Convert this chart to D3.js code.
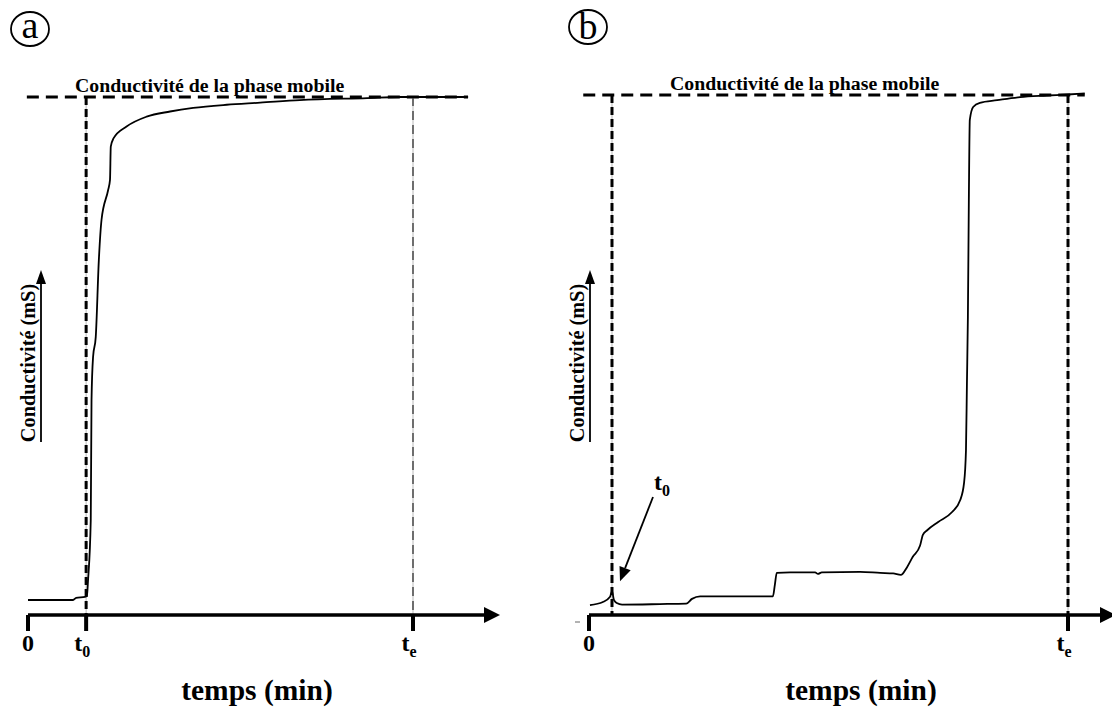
<!DOCTYPE html>
<html><head><meta charset="utf-8">
<script src="https://cdn.jsdelivr.net/npm/d3@7"></script>
<style>
html,body{margin:0;padding:0;background:#fff;}
svg text{font-family:"Liberation Serif","Times New Roman",serif;}
</style></head>
<body>
<svg id="chart" width="1112" height="710"></svg>
<script>
// ---- data (arbitrary time units: 0 -> origin, 100 -> t_e ; conductivity in % of mobile phase) ----
const panelA_time = [0, 11.7, 12.5, 14.8, 15.3, 15.6, 16.3, 16.5, 16.9, 17.6, 18.4, 19.1, 20.8, 21.3, 21.5, 22.2, 25.6, 30.8, 36.9, 42.9, 51.6, 60.3, 70.6, 88.1, 96.6, 114.3];
const panelA_cond = [2.9, 2.9, 3.3, 3.5, 3.7, 6.8, 18.3, 41.5, 49.8, 53.7, 68.5, 76.3, 82.0, 84.0, 90.4, 92.0, 94.3, 96.2, 97.2, 97.9, 98.5, 98.9, 99.4, 99.8, 100, 100];
const panelB_time = [0.2, 2.9, 4.4, 4.8, 5.2, 5.8, 6.9, 14.8, 20.3, 21.5, 23.2, 31.5, 38.4, 38.8, 39.2, 42.0, 47.2, 47.8, 48.6, 56.6, 60.8, 63.5, 65.1, 66.4, 67.6, 69.1, 69.7, 70.6, 72.9, 75.8, 77.5, 78.3, 78.7, 78.9, 79.1, 79.3, 79.5, 80.2, 81.6, 85.2, 90.0, 95.6, 100, 103.5];
const panelB_cond = [1.9, 2.5, 3.5, 4.6, 2.9, 2.3, 2.0, 2.1, 2.2, 3.1, 3.6, 3.6, 3.6, 5.8, 8.1, 8.2, 8.2, 7.9, 8.2, 8.3, 8.1, 8.0, 7.7, 9.2, 11.2, 13.3, 15.4, 16.3, 17.9, 19.8, 22.1, 25.4, 31.7, 44.6, 57.3, 79.8, 95.2, 97.7, 98.5, 99.0, 99.6, 99.9, 100.1, 100.3];
const panelA_ticks = [0, 15.1, 100];
const panelA_tickLabels = ["0", "t|0", "t|e"];
const panelB_ticks = [0, 100];
const panelB_tickLabels = ["0", "t|e"];
const panelA_t0 = 15.1, panelB_t0 = 4.8, t_e = 100;
const mobilePhase = 100;
const panelLetters = ["a", "b"];
const titleText = "Conductivité de la phase mobile";
const yLabelText = "Conductivité (mS)";
const xLabelText = "temps (min)";

const svg = d3.select("#chart");

function panel(cfg){
  const g = svg.append("g");
  const x = d3.scaleLinear().domain([0, 100]).range(cfg.xr);
  const y = d3.scaleLinear().domain([0, 100]).range(cfg.yr);
  // circled letter
  g.append("ellipse").attr("cx", cfg.circ[0]).attr("cy", cfg.circ[1]).attr("rx", 19).attr("ry", 17)
    .attr("fill", "none").attr("stroke", "#000").attr("stroke-width", 1.8);
  g.append("text").attr("x", cfg.circ[0]).attr("y", cfg.circ[1] + cfg.letterDy).attr("text-anchor", "middle")
    .attr("font-size", 38).text(cfg.letter);
  // mobile phase dashed line
  g.append("line").attr("x1", x(cfg.dashStart)).attr("x2", x(cfg.dashEnd)).attr("y1", y(mobilePhase)).attr("y2", y(mobilePhase))
    .attr("stroke", "#000").attr("stroke-width", 3).attr("stroke-dasharray", "12,7");
  g.append("text").attr("x", cfg.titleX).attr("y", y(mobilePhase) - 5).attr("font-size", 19.8).attr("font-weight", "bold")
    .text(titleText);
  // vertical dashed lines
  cfg.vlines.forEach(v => {
    g.append("line").attr("x1", x(v.t)).attr("x2", x(v.t)).attr("y1", y(mobilePhase)).attr("y2", y(0))
      .attr("stroke", "#aaa").attr("stroke-width", 0.8);
    g.append("line").attr("x1", x(v.t)).attr("x2", x(v.t)).attr("y1", y(mobilePhase)).attr("y2", y(0))
      .attr("stroke", v.color).attr("stroke-width", v.w).attr("stroke-dasharray", v.dash);
  });
  // curve
  const line = d3.line().x(d => x(d[0])).y(d => y(d[1])).curve(d3.curveMonotoneX);
  g.append("path").datum(d3.zip(cfg.time, cfg.cond)).attr("d", line)
    .attr("fill", "none").attr("stroke", "#000").attr("stroke-width", 1.8).attr("stroke-linejoin", "round");
  // x axis with arrow
  g.append("line").attr("x1", x(0)).attr("x2", cfg.axisEnd - 12).attr("y1", y(0)).attr("y2", y(0))
    .attr("stroke", "#000").attr("stroke-width", 3.5);
  g.append("path").attr("d", `M${cfg.axisEnd},${y(0)} L${cfg.axisEnd - 16},${y(0) - 8} L${cfg.axisEnd - 16},${y(0) + 8} Z`).attr("fill", "#000");
  // ticks
  cfg.ticks.forEach((t, i) => {
    g.append("line").attr("x1", x(t)).attr("x2", x(t)).attr("y1", y(0)).attr("y2", y(0) + 16)
      .attr("stroke", "#000").attr("stroke-width", 4);
    const parts = cfg.tickLabels[i].split("|");
    const tx = g.append("text").attr("x", x(t) - (parts.length > 1 ? 4 : 0)).attr("y", y(0) + 36)
      .attr("text-anchor", "middle").attr("font-size", 24).attr("font-weight", "bold");
    tx.append("tspan").text(parts[0]);
    if (parts.length > 1) tx.append("tspan").attr("font-size", 16).attr("dy", 6).text(parts[1]);
  });
  // x label
  g.append("text").attr("x", cfg.xLabelX).attr("y", 700).attr("text-anchor", "middle")
    .attr("font-size", 29.5).attr("font-weight", "bold").text(xLabelText);
  // y label with arrow
  g.append("line").attr("x1", cfg.yArrowX).attr("x2", cfg.yArrowX).attr("y1", 442).attr("y2", 282)
    .attr("stroke", "#000").attr("stroke-width", 1.8);
  g.append("path").attr("d", `M${cfg.yArrowX},270 L${cfg.yArrowX - 5},284 L${cfg.yArrowX + 5},284 Z`).attr("fill", "#000");
  g.append("text").attr("transform", `translate(${cfg.yArrowX - 6},${363}) rotate(-90)`).attr("text-anchor", "middle")
    .attr("font-size", 20.3).attr("font-weight", "bold").text(yLabelText);
  return {g, x, y};
}

panel({
  letter: panelLetters[0], circ: [30, 29], letterDy: 9, xr: [28, 413], yr: [615, 97],
  dashStart: -0.3, dashEnd: 114.3, titleX: 75,
  vlines: [{t: panelA_t0, color: "#000", w: 3, dash: "8,4"}, {t: t_e, color: "#333", w: 1.3, dash: "9,5"}],
  time: panelA_time, cond: panelA_cond, axisEnd: 500,
  ticks: panelA_ticks, tickLabels: panelA_tickLabels, xLabelX: 257, yArrowX: 41
});
const pb = panel({
  letter: panelLetters[1], circ: [588, 27], letterDy: 12, xr: [589, 1068], yr: [615, 95],
  dashStart: -1.2, dashEnd: 103.5, titleX: 670,
  vlines: [{t: panelB_t0, color: "#000", w: 3, dash: "8,4"}, {t: t_e, color: "#000", w: 3, dash: "8,4"}],
  time: panelB_time, cond: panelB_cond, axisEnd: 1116,
  ticks: panelB_ticks, tickLabels: panelB_tickLabels, xLabelX: 861, yArrowX: 590
});
// t0 annotation in panel b
{
  const {g, x, y} = pb;
  const tx = g.append("text").attr("x", 654).attr("y", 490).attr("font-size", 24).attr("font-weight", "bold");
  tx.append("tspan").text("t");
  tx.append("tspan").attr("font-size", 16).attr("dy", 6).text("0");
  const x1 = 653, y1 = 497, x2 = x(panelB_t0) + 8, y2 = y(panelB_t0 > 0 ? 6.5 : 0);
  const ang = Math.atan2(y2 - y1, x2 - x1), L = 14, W = 6;
  const bx = x2 - L * Math.cos(ang), by = y2 - L * Math.sin(ang);
  g.append("line").attr("x1", x1).attr("y1", y1).attr("x2", bx).attr("y2", by).attr("stroke", "#000").attr("stroke-width", 1.8);
  g.append("path").attr("d", `M${x2},${y2} L${bx + W * Math.sin(ang)},${by - W * Math.cos(ang)} L${bx - W * Math.sin(ang)},${by + W * Math.cos(ang)} Z`).attr("fill", "#000");
  g.append("line").attr("x1", 575).attr("x2", 580).attr("y1", 622).attr("y2", 622).attr("stroke", "#666").attr("stroke-width", 1);
}
</script>
</body></html>
